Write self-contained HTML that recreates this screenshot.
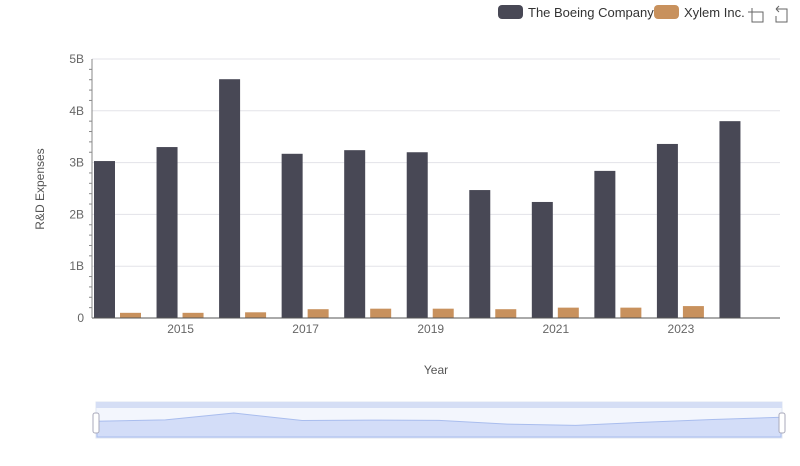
<!DOCTYPE html>
<html><head><meta charset="utf-8"><style>
body{margin:0;background:#fff;font-family:"Liberation Sans",sans-serif}
svg text{font-family:"Liberation Sans",sans-serif}
</style></head><body>
<svg id="c" width="800" height="461" xmlns="http://www.w3.org/2000/svg">
<g>
<rect x="498" y="5" width="25" height="14" rx="4" fill="#484855"/>
<text x="528" y="17" font-size="13" fill="#333">The Boeing Company</text>
<rect x="654" y="5" width="25" height="14" rx="4" fill="#c8915d"/>
<text x="684" y="17" font-size="13" fill="#333">Xylem Inc.</text>
<path d="M748 12h8M752 8v8M752 12v10h11V12h-7" stroke="#666" fill="none"/>
<path d="M776 9h11v13h-11v-6M776 9l3-3M776 9l3 3" stroke="#666" fill="none"/>
</g>
<text transform="translate(44,189) rotate(-90)" text-anchor="middle" font-size="12" fill="#555">R&amp;D Expenses</text>
<text x="436" y="374" text-anchor="middle" font-size="12" fill="#555">Year</text>
<g id="grid"></g><g id="bars"></g><g id="axes"></g>
<g>
<rect x="96" y="402" width="686" height="36" fill="#f3f6fd" stroke="#dfe5f2"/>
<rect x="96" y="402" width="686" height="6" fill="#d5def5"/>
<path id="mini" fill="#d3ddf8" stroke="#a9bdee"/>
<rect x="93" y="413" width="6" height="20" rx="2" fill="#fff" stroke="#aab"/>
<rect x="779" y="413" width="6" height="20" rx="2" fill="#fff" stroke="#aab"/>
</g>
</svg>
<script>
const years=[2014,2015,2016,2017,2018,2019,2020,2021,2022,2023,2024];
const boeing=[3.03,3.30,4.61,3.17,3.24,3.20,2.47,2.24,2.84,3.36,3.80];
const xylem=[0.10,0.10,0.11,0.17,0.18,0.18,0.17,0.20,0.20,0.23,null];
const yTicks=[0,1,2,3,4,5];
const yLabels=["0","1B","2B","3B","4B","5B"];
const xLabelYears=[2015,2017,2019,2021,2023];
const NS="http://www.w3.org/2000/svg";
const x0=92,x1=780,y0=318,yTop=59;
const band=(x1-x0)/years.length;
const y=v=>y0-v/5*(y0-yTop);
const xb=i=>x0+i*band;
function mk(t,a,p){const e=document.createElementNS(NS,t);for(const k in a)e.setAttribute(k,a[k]);p.appendChild(e);return e;}
const g=document.getElementById('grid'),b=document.getElementById('bars'),ax=document.getElementById('axes');
yTicks.forEach((v,i)=>{
 if(v>0){const l=mk('line',{x1:x0,x2:x1,y1:y(v),y2:y(v),stroke:'#e3e3e8'},g);
 
 }
 const t=mk('text',{x:x0-8,y:y(v)+4,'text-anchor':'end','font-size':12,fill:'#666'},ax);t.textContent=yLabels[i];
 
 
 for(let k=1;k<5&&i<yTicks.length-1;k++){mk('line',{x1:x0-3,x2:x0,y1:y(v+k*0.2),y2:y(v+k*0.2),stroke:'#888'},ax);}
});
years.forEach((yr,i)=>{
 const r=mk('rect',{x:xb(i)+2,y:y(boeing[i]),width:21,height:y0-y(boeing[i]),fill:'#484855'},b);
 
 
 if(xylem[i]!=null){const r2=mk('rect',{x:xb(i)+28,y:y(xylem[i]),width:21,height:y0-y(xylem[i]),fill:'#c8915d'},b);
 
 }
 if(xLabelYears.includes(yr)){const t=mk('text',{x:xb(i)+26,y:333,'text-anchor':'middle','font-size':12,fill:'#666'},ax);t.textContent=yr;
 
 }
});
mk('line',{x1:x0,x2:x1,y1:y0,y2:y0,stroke:'#555'},ax);
mk('line',{x1:x0,x2:x0,y1:yTop,y2:y0,stroke:'#888'},ax);
let d='M97 437';years.forEach((yr,i)=>{const px=97+i*(684/(years.length-1));d+=' L'+px+' '+(437-boeing[i]/4.61*24);});d+=' L781 437Z';
document.getElementById('mini').setAttribute('d',d);
</script>
</body></html>
